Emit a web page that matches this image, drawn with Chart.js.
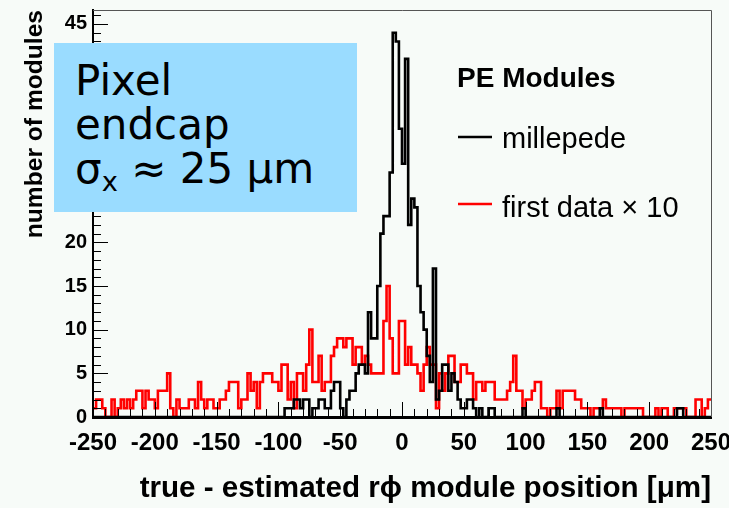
<!DOCTYPE html>
<html>
<head>
<meta charset="utf-8">
<script src="https://cdn.jsdelivr.net/npm/chart.js@4.4.1/dist/chart.umd.min.js"></script>
<style>
    html, body { margin: 0; padding: 0; background: #f7fbf8; }
    #wrap { position: relative; width: 729px; height: 508px; }
    #chart { position: absolute; left: 0; top: 0; }
    #box {
        position: absolute; left: 54px; top: 43px; width: 282px; height: 153px;
        padding: 16px 0 0 21px;
        background: #9adcff; color: #000;
        font-family: "DejaVu Sans", sans-serif; font-size: 42px; line-height: 44px;
        white-space: nowrap;
    }
    #box sub { font-size: 0.65em; line-height: 0; vertical-align: -0.3em; }
</style>
</head>
<body>
<div id="wrap">
    <canvas id="chart" width="729" height="508"></canvas>
    <div id="box">Pixel<br>endcap<br>σ<sub>x</sub> ≈ 25 µm</div>
</div>
<script>
// histogram binning: 200 bins of 2.5 µm from -250 to 250
const binLow = -250;
const binWidth = 2.5;

// millepede (black)
const millepede = [
    0,0,0,0,0,0,0,0,0,0,0,0,0,0,0,0,0,0,0,0,
    0,0,0,0,0,0,0,0,0,0,0,0,0,0,0,0,0,0,0,0,
    0,0,0,0,0,0,0,0,0,0,0,0,0,0,0,0,0,0,0,0,
    0,0,1,1,1,2,2,1,2,2,0,1,1,2,2,1,1,3,4,4,
    1,0,2,3,3,5,6,6,5,12,9,9,15,21,23,23,28,44,43,33,
    29,41,22,25,24,15,12,10,7,4,17,2,3,6,6,3,5,4,2,1,
    1,2,2,1,0,1,0,0,1,1,0,0,0,0,0,0,0,0,0,1,
    0,0,0,0,0,0,0,0,0,0,1,0,0,0,0,0,0,0,0,0,
    0,0,0,0,1,0,0,0,0,0,0,0,0,0,0,0,0,0,0,0,
    0,0,0,0,0,0,0,0,0,1,1,0,0,0,0,0,0,0,0,0
];

// first data x 10 (red)
const firstData = [
    1,2,2,1,0,0,2,0,1,2,1,2,1,2,3,3,1,3,2,2,
    1,3,3,3,5,1,0,2,1,1,1,2,2,1,4,2,1,2,2,1,
    1,2,2,3,4,4,4,1,2,2,5,3,4,1,4,5,5,5,4,4,
    3,6,6,2,4,1,5,5,3,6,10,4,4,7,3,4,4,7,8,9,
    9,8,9,9,6,8,8,6,7,6,5,5,5,5,11,15,9,5,5,11,
    11,6,8,6,6,5,3,6,8,6,6,1,5,3,5,7,7,4,4,6,
    6,5,5,2,4,4,3,4,4,4,2,2,2,2,3,4,7,3,3,1,
    2,2,3,4,4,1,1,0,1,1,3,1,3,3,3,3,2,2,1,1,
    1,0,1,1,1,2,1,1,1,1,1,0,1,1,1,1,1,1,0,0,
    0,0,1,0,1,1,0,0,1,1,1,1,0,0,0,2,2,0,1,2
];

const seriesLabels = ['millepede', 'first data \u00d7 10'];
const seriesColors = ['#000000', '#ff0000'];
const legendTitle = 'PE Modules';
const xTitle = 'true - estimated r\u03d5 module position [\u03bcm]';
const yTitle = 'number of modules';

function toSteps(counts) {
    const pts = counts.map((c, i) => ({ x: binLow + i * binWidth, y: c }));
    pts.push({ x: binLow + counts.length * binWidth, y: counts[counts.length - 1] });
    return pts;
}

const frameAndTicks = {
    id: 'frameAndTicks',
    afterDatasetsDraw(chart) {
        const { ctx, chartArea: a, scales: { x, y } } = chart;
        ctx.save();
        ctx.strokeStyle = '#000';
        ctx.lineWidth = 1;
        ctx.beginPath();
        for (let v = -250; v <= 250; v += 10) {
            const px = Math.round(x.getPixelForValue(v)) + 0.5;
            const len = v % 50 === 0 ? 15 : 8;
            ctx.moveTo(px, a.bottom);
            ctx.lineTo(px, a.bottom - len);
        }
        for (let v = 0; v <= 46; v += 1) {
            const py = Math.round(y.getPixelForValue(v)) + 0.5;
            const len = v % 5 === 0 ? 15 : 8;
            ctx.moveTo(a.left, py);
            ctx.lineTo(a.left + len, py);
        }
        ctx.stroke();
        ctx.strokeStyle = '#555';
        ctx.beginPath();
        ctx.moveTo(a.left, a.top + 0.5);
        ctx.lineTo(a.right + 0.5, a.top + 0.5);
        ctx.lineTo(a.right + 0.5, a.bottom);
        ctx.stroke();
        ctx.restore();
    }
};

const peLegend = {
    id: 'peLegend',
    afterDraw(chart) {
        const ctx = chart.ctx;
        ctx.save();
        ctx.fillStyle = '#000';
        ctx.textBaseline = 'alphabetic';
        ctx.font = 'bold 28px "Liberation Sans", Arial, sans-serif';
        ctx.fillText(legendTitle, 457, 87);
        const rows = [{ line: 137, text: 148 }, { line: 204, text: 217 }];
        ctx.font = '29px "Liberation Sans", Arial, sans-serif';
        chart.data.datasets.forEach((ds, i) => {
            ctx.strokeStyle = ds.borderColor;
            ctx.lineWidth = 2.5;
            ctx.beginPath();
            ctx.moveTo(458, rows[i].line);
            ctx.lineTo(492, rows[i].line);
            ctx.stroke();
            ctx.fillText(ds.label, 502, rows[i].text);
        });
        ctx.restore();
    }
};

new Chart(document.getElementById('chart'), {
    type: 'line',
    data: {
        datasets: [
            { label: seriesLabels[0], data: toSteps(millepede), borderColor: seriesColors[0], borderWidth: 2.6, stepped: 'before', pointRadius: 0, fill: false },
            { label: seriesLabels[1], data: toSteps(firstData), borderColor: seriesColors[1], borderWidth: 2.6, stepped: 'before', pointRadius: 0, fill: false }
        ]
    },
    options: {
        responsive: false,
        animation: false,
        layout: { padding: { top: 10, right: 18, left: 0, bottom: 0 } },
        plugins: { legend: { display: false }, tooltip: { enabled: false } },
        scales: {
            x: {
                type: 'linear', min: -250, max: 250,
                afterFit: s => { s.height = 91; s.paddingLeft = 0; s.paddingRight = 0; },
                grid: { drawOnChartArea: false, drawTicks: false },
                border: { color: '#000', width: 3 },
                ticks: {
                    stepSize: 50, autoSkip: false, maxRotation: 0, padding: 12, color: '#000',
                    font: { family: '"Liberation Sans", Arial, sans-serif', size: 24, weight: 'bold' }
                },
                title: {
                    display: true, text: xTitle, align: 'end', color: '#000', padding: { top: 0, bottom: 1 },
                    font: { family: '"Liberation Sans", Arial, sans-serif', size: 29.6, weight: 'bold' }
                }
            },
            y: {
                min: 0, max: 46.6,
                afterFit: s => { s.width = 93; s.paddingTop = 0; s.paddingBottom = 0; },
                grid: { drawOnChartArea: false, drawTicks: false },
                border: { color: '#000', width: 2 },
                ticks: {
                    stepSize: 5, includeBounds: false, padding: 6, color: '#000',
                    font: { family: '"Liberation Sans", Arial, sans-serif', size: 20, weight: 'bold' }
                },
                title: {
                    display: true, text: yTitle, align: 'end', color: '#000', padding: { top: 20, bottom: 0 },
                    font: { family: '"Liberation Sans", Arial, sans-serif', size: 24.6, weight: 'bold' }
                }
            }
        }
    },
    plugins: [frameAndTicks, peLegend]
});
</script>
</body>
</html>
